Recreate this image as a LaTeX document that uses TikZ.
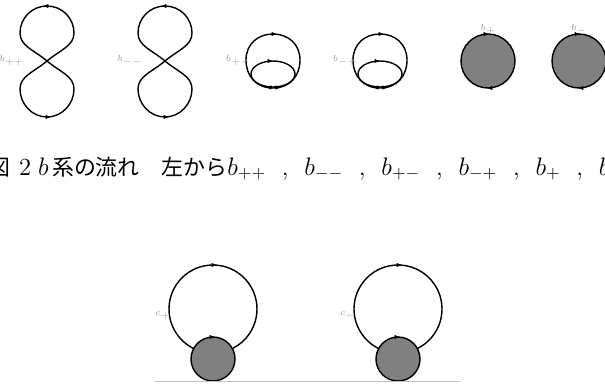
\documentclass[tikz,border=0pt]{standalone}
\usepackage{fontspec}
\usetikzlibrary{arrows.meta}
\newfontfamily\jpfont[Scale=0.89]{Noto Sans CJK JP}
\newcommand{\jp}[1]{{\jpfont #1}}
\newcommand{\sepc}{\hspace{9pt},\hspace{9pt}}
\tikzset{
  flow/.style={line width=0.8pt},
  tag/.style={font=\fontsize{3}{3}\selectfont, text=gray!80, inner sep=0pt},
  tip/.style={-{Latex[length=3pt,width=2.5pt]}, line width=0.6pt}
}
\begin{document}
\begin{tikzpicture}[x=0.02cm, y=-0.02cm]
  \useasboundingbox (0,0) rectangle (605,383);
  % figure eights
  \foreach \dx/\lab in {0/{$b_{++}$}, 118/{$b_{--}$}} {
    \begin{scope}[shift={(\dx,0)}]
      \draw [flow] (47,61) .. controls (60,50) and (74,46) .. (74,33)
        .. controls (74,18) and (62,6) .. (47,6)
        .. controls (32,6) and (20,18) .. (20,33)
        .. controls (20,46) and (34,50) .. (47,61)
        .. controls (60,72) and (74,76) .. (74,89)
        .. controls (74,104) and (62,117) .. (47,117)
        .. controls (32,117) and (20,104) .. (20,89)
        .. controls (20,76) and (34,72) .. (47,61);
      \draw [tip] (46,6) -- (43,6);
      \draw [tip] (48,117) -- (51,117);
      \node [tag] (l\dx) at (12,61) {\lab};
    \end{scope}
  }
  % egg and ellipse
  \foreach \dx/\lab in {0/{$b_{+-}$}, 107/{$b_{-+}$}} {
    \begin{scope}[shift={(\dx,0)}]
      \draw [flow] (273,88) .. controls (256,88) and (246,76) .. (246,60)
        .. controls (246,44) and (258,34) .. (273,34)
        .. controls (288,34) and (300,44) .. (300,60)
        .. controls (300,76) and (290,88) .. (273,88);
      \draw [flow] (273,74) ellipse [x radius=22, y radius=13];
      \draw [tip] (274,34) -- (277,34);
      \draw [tip] (270,61) -- (273,61);
      \draw [tip] (268,87.5) -- (266,87.5);
      \draw [tip] (279,87.5) -- (281,87.5);
      \node [tag] (m\dx) at (238,61) {\lab};
    \end{scope}
  }
  % filled discs
  \foreach \cx/\lab in {488/{$b_{+}$}, 579/{$b_{-}$}} {
    \draw [flow, fill=gray] (\cx,61) circle [radius=27];
    \draw [tip] (\cx-1,34) -- (\cx+1,34);
    \draw [tip] (\cx+1,88) -- (\cx-1,88);
    \node [tag] (d\cx) at (\cx,30) {\lab};
  }
  % caption
  \node [anchor=base west, inner sep=0pt, font=\fontsize{14}{16}\selectfont]
    (cap) at (-12,175)
    {\jp{図}\hspace{5pt}2\hspace{4pt}$b$\hspace{2pt}\jp{系の流れ}\hspace{12.5pt}\jp{左から}$b_{++}$\sepc$b_{--}$\sepc$b_{+-}$\sepc$b_{-+}$\sepc$b_{+}$\sepc$b_{-}$};
  % bottom pair
  \foreach \dx/\lab in {0/{$c_{+}$}, 185/{$c_{-}$}} {
    \begin{scope}[shift={(\dx,0)}]
      \draw [flow] (213,309) circle [radius=44];
      \draw [flow, fill=gray] (213,359) circle [radius=22];
      \draw [tip] (214,265) -- (217,265);
      \draw [tip] (212,337) -- (215,337);
      \node [tag] (c\dx) at (163,316) {\lab};
    \end{scope}
  }
  \draw [gray!50, line width=0.7pt] (155,381.5) -- (460,381.5);
\end{tikzpicture}
\end{document}
